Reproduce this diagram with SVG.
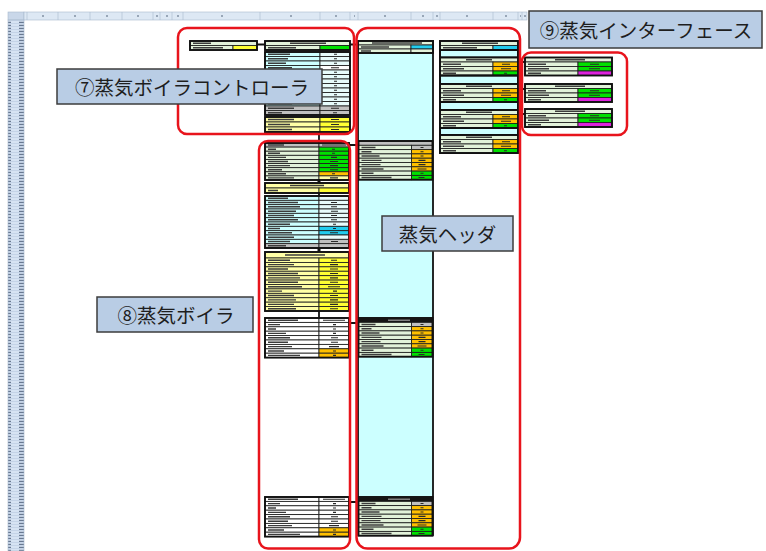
<svg xmlns="http://www.w3.org/2000/svg" width="766" height="551" viewBox="0 0 766 551">
<style>
.c{stroke:#1e1e1e;stroke-width:0.85}
.ol{fill:none;stroke:#111;stroke-width:1.9}
.g0{fill:#e2f2da}.cy{fill:#ccffff}.gy{fill:#c0c0c0}.gn{fill:#00e000}.or{fill:#ffc000}.ye{fill:#ffff33}.py{fill:#ffffa6}.wh{fill:#fff}.mg{fill:#dd22dd}.bc{fill:#22ccee}.pc{fill:#e8fcfc}
.mk{fill:none;stroke:#3c3c3c;stroke-width:1.4}
.vk{fill:none;stroke:#2a2a2a;stroke-width:1.1}
.rb{fill:none;stroke:#e8141c;stroke-width:2.5}
.lb{fill:#b9cde5;stroke:#3c3c3c;stroke-width:1.5}
.lt{font-family:"Noto Sans CJK JP","Noto Sans CJK SC",sans-serif;font-size:19.5px;fill:#1e1e1e;text-anchor:middle;dominant-baseline:central}
.cn{fill:none;stroke:#111;stroke-width:1.8}
.hd{fill:#dde8f4;stroke:#a9b9cd;stroke-width:0.6}
</style>
<defs>
<pattern id="rh" width="16" height="3" patternUnits="userSpaceOnUse">
<rect width="16" height="3" fill="#d6e3f3"/>
<rect x="0" y="2.6" width="16" height="0.4" fill="#a9bcd6"/>
<rect x="3" y="0.8" width="8" height="1.1" fill="#5d6d86"/>
</pattern>
<g id="br">
<rect class="c g0" x="0" y="0" width="78" height="4.5"/>
<rect class="c g0" x="0" y="4.5" width="53" height="4.5"/><rect class="c or" x="53" y="4.5" width="25" height="4.5"/>
<rect class="c g0" x="0" y="9" width="53" height="4.5"/><rect class="c or" x="53" y="9" width="25" height="4.5"/>
<rect class="c g0" x="0" y="13.5" width="53" height="4.5"/><rect class="c gn" x="53" y="13.5" width="25" height="4.5"/>
<path class="mk" d="M26 2.25h26M3 6.75h18M3 11.25h21M3 15.75h13"/>
<path class="vk" d="M62 6.75h8M61 11.25h10M64 15.75h3"/>
<rect class="ol" x="0" y="0" width="78" height="18"/>
</g>
<g id="if">
<rect class="c g0" x="0" y="0" width="87" height="4.5"/>
<rect class="c g0" x="0" y="4.5" width="53" height="4.5"/><rect class="c gn" x="53" y="4.5" width="34" height="4.5"/>
<rect class="c g0" x="0" y="9" width="53" height="4.5"/><rect class="c gn" x="53" y="9" width="34" height="4.5"/>
<rect class="c g0" x="0" y="13.5" width="53" height="4.5"/><rect class="c mg" x="53" y="13.5" width="34" height="4.5"/>
<path class="mk" d="M30 2.25h30M3 6.75h18M3 11.25h21M3 15.75h13"/>
<path class="vk" d="M65 6.75h9M64 11.25h11"/>
<rect class="ol" x="0" y="0" width="87" height="18"/>
</g>
<g id="ht">
<rect class="c gy" x="0" y="0" width="74" height="4.3"/>
<rect class="c g0" x="0" y="4.3" width="53" height="4.3"/><rect class="c gy" x="53" y="4.3" width="21" height="4.3"/>
<rect class="c g0" x="0" y="8.6" width="53" height="4.3"/><rect class="c or" x="53" y="8.6" width="21" height="4.3"/>
<rect class="c g0" x="0" y="12.9" width="53" height="4.3"/><rect class="c or" x="53" y="12.9" width="21" height="4.3"/>
<rect class="c g0" x="0" y="17.2" width="53" height="4.3"/><rect class="c or" x="53" y="17.2" width="21" height="4.3"/>
<rect class="c g0" x="0" y="21.5" width="53" height="4.3"/><rect class="c or" x="53" y="21.5" width="21" height="4.3"/>
<rect class="c g0" x="0" y="25.8" width="53" height="4.3"/><rect class="c or" x="53" y="25.8" width="21" height="4.3"/>
<rect class="c g0" x="0" y="30.1" width="53" height="4.3"/><rect class="c gn" x="53" y="30.1" width="21" height="4.3"/>
<rect class="c g0" x="0" y="34.4" width="53" height="4.3"/><rect class="c gn" x="53" y="34.4" width="21" height="4.3"/>
<path class="mk" d="M3 6.45h14M3 10.75h10M3 15.05h18M3 19.35h20M3 23.65h19M3 27.95h22M3 32.25h12M3 36.55h30"/>
<path class="vk" d="M62 6.45h3M62 10.75h3M62 15.05h3M60 19.35h7M60 23.65h7M59 27.95h9M62 32.25h3M60 36.55h6"/>
<rect class="ol" x="0" y="0" width="74" height="38.7"/>
</g>
<g id="wt">
<rect class="c wh" x="0" y="0" width="54" height="4.4"/><rect class="c wh" x="54" y="0" width="30" height="4.4"/>
<rect class="c wh" x="0" y="4.4" width="54" height="4.4"/><rect class="c wh" x="54" y="4.4" width="30" height="4.4"/>
<rect class="c wh" x="0" y="8.8" width="54" height="4.4"/><rect class="c wh" x="54" y="8.8" width="30" height="4.4"/>
<rect class="c wh" x="0" y="13.2" width="54" height="4.4"/><rect class="c wh" x="54" y="13.2" width="30" height="4.4"/>
<rect class="c wh" x="0" y="17.6" width="54" height="4.4"/><rect class="c wh" x="54" y="17.6" width="30" height="4.4"/>
<rect class="c wh" x="0" y="22" width="54" height="4.4"/><rect class="c wh" x="54" y="22" width="30" height="4.4"/>
<rect class="c wh" x="0" y="26.4" width="54" height="4.4"/><rect class="c wh" x="54" y="26.4" width="30" height="4.4"/>
<rect class="c wh" x="0" y="30.8" width="54" height="4.4"/><rect class="c or" x="54" y="30.8" width="30" height="4.4"/>
<rect class="c wh" x="0" y="35.2" width="54" height="4.4"/><rect class="c or" x="54" y="35.2" width="30" height="4.4"/>
<path class="mk" d="M3 2.2h30M3 6.6h12M3 11h8M3 15.4h18M3 19.8h22M3 24.2h20M3 28.6h24M3 33h16M3 37.4h32"/>
<path class="vk" d="M58 2.2h22M68 6.6h3M68 11h3M68 15.4h3M66 19.8h7M66 24.2h7M64 28.6h10M68 33h3M68 37.4h3"/>
<rect class="ol" x="0" y="0" width="84" height="39.6"/>
</g>
</defs>

<rect width="766" height="551" fill="#fff"/>

<g id="sheet-headers">
<rect x="8" y="12" width="16" height="8" fill="#c9d7e9" stroke="#a9b9cd" stroke-width="0.6"/>
<rect class="hd" x="24" y="12" width="503" height="8"/>
<path d="M27 12v8M58 12v8M90 12v8M122 12v8M153 12v8M160 12v8M172 12v8M183 12v8M260 12v8M320 12v8M350 12v8M358 12v8M411 12v8M433 12v8M440 12v8M493 12v8M518 12v8M522 12v8" stroke="#a9b9cd" stroke-width="0.6"/>
<path d="M42 16h2M74 16h2M106 16h2M137 16h2M156 16h2M166 16h2M177 16h2M221 16h2M290 16h2M335 16h2M354 16h1M384 16h2M422 16h2M436 16h2M466 16h2M505 16h2M520 16h1M524 16h2" stroke="#55657a" stroke-width="1.2"/>
<rect x="8" y="20" width="16" height="531" fill="url(#rh)" stroke="#a9b9cd" stroke-width="0.6"/>
</g>

<g id="connectors">
<path class="cn" d="M257 44.5H265M350 44.5H358M319 132V143M349 145H358M319 180V183M319 193V196M319 248V252M319 311V318M349 323H358M349 502H358M518 62H525M518 89H525M518 114H525"/>
<rect x="317.5" y="180.3" width="3" height="2.4" fill="#111"/>
<rect x="317.5" y="248.3" width="3" height="3" fill="#111"/>
</g>

<g id="controller-input">
<rect class="c g0" x="190" y="41" width="67" height="4.5"/>
<rect class="c g0" x="190" y="45.5" width="43" height="4.5"/><rect class="c ye" x="233" y="45.5" width="24" height="4.5"/>
<path class="mk" d="M193 43.2h18M193 47.7h30"/>
<rect class="ol" x="190" y="41" width="67" height="9"/>
</g>

<g id="controller">
<rect class="c g0" x="265" y="41" width="85" height="4.5"/>
<rect class="c g0" x="265" y="45.5" width="55" height="4.5"/><rect class="c gn" x="320" y="45.5" width="30" height="4.5"/>
<path class="mk" d="M290 43.2h36M268 47.7h28"/>
<rect class="ol" x="265" y="41" width="85" height="9"/>

<rect class="c cy" x="265" y="52" width="55" height="4.5"/><rect class="c pc" x="320" y="52" width="30" height="4.5"/>
<rect class="c cy" x="265" y="56.5" width="55" height="4.5"/><rect class="c pc" x="320" y="56.5" width="30" height="4.5"/>
<rect class="c cy" x="265" y="61" width="55" height="4.5"/><rect class="c pc" x="320" y="61" width="30" height="4.5"/>
<rect class="c cy" x="265" y="65.5" width="55" height="4.5"/><rect class="c wh" x="320" y="65.5" width="30" height="4.5"/>
<rect class="c cy" x="265" y="70" width="55" height="4.5"/><rect class="c pc" x="320" y="70" width="30" height="4.5"/>
<rect class="c cy" x="265" y="74.5" width="55" height="4.5"/><rect class="c pc" x="320" y="74.5" width="30" height="4.5"/>
<rect class="c cy" x="265" y="79" width="55" height="4.5"/><rect class="c pc" x="320" y="79" width="30" height="4.5"/>
<rect class="c cy" x="265" y="83.5" width="55" height="4.5"/><rect class="c pc" x="320" y="83.5" width="30" height="4.5"/>
<rect class="c cy" x="265" y="88" width="55" height="4.5"/><rect class="c pc" x="320" y="88" width="30" height="4.5"/>
<rect class="c cy" x="265" y="92.5" width="55" height="4.5"/><rect class="c pc" x="320" y="92.5" width="30" height="4.5"/>
<rect class="c cy" x="265" y="97" width="55" height="4.5"/><rect class="c pc" x="320" y="97" width="30" height="4.5"/>
<rect class="c cy" x="265" y="101.5" width="55" height="4.5"/><rect class="c pc" x="320" y="101.5" width="30" height="4.5"/>
<rect class="c gy" x="265" y="106" width="55" height="4.5"/><rect class="c gy" x="320" y="106" width="30" height="4.5"/>
<rect class="c gy" x="265" y="110.5" width="55" height="4.5"/><rect class="c gy" x="320" y="110.5" width="30" height="4.5"/>
<path class="mk" d="M268 54.25h22M268 58.75h20M268 63.25h18M268 67.75h24M268 72.25h20M268 76.75h22M268 81.25h16M268 85.75h20M268 90.25h18M268 94.75h22M268 99.25h20M268 103.75h24M268 108.25h26M268 112.75h14"/>
<path class="vk" d="M334 54.25h3M334 58.75h3M334 63.25h3M331 67.75h8M334 72.25h3M334 76.75h3M334 81.25h3M334 85.75h3M334 90.25h3M334 94.75h3M334 99.25h3M334 103.75h3M331 108.25h8M333 112.75h4"/>
<rect class="ol" x="265" y="52" width="85" height="63"/>

<rect class="c py" x="265" y="117" width="55" height="5"/><rect class="c ye" x="320" y="117" width="30" height="5"/>
<rect class="c py" x="265" y="122" width="55" height="5"/><rect class="c ye" x="320" y="122" width="30" height="5"/>
<rect class="c py" x="265" y="127" width="55" height="5"/><rect class="c ye" x="320" y="127" width="30" height="5"/>
<path class="mk" d="M268 119.5h26M268 124.5h22M268 129.5h24"/>
<path class="vk" d="M331 119.5h8M331 124.5h8M331 129.5h8"/>
<rect class="ol" x="265" y="117" width="85" height="15"/>
</g>

<g id="boiler">
<rect class="c gy" x="265" y="143" width="54" height="4.11"/><rect class="c gy" x="319" y="143" width="30" height="4.11"/>
<rect class="c g0" x="265" y="147.11" width="54" height="4.11"/><rect class="c gn" x="319" y="147.11" width="30" height="4.11"/>
<rect class="c g0" x="265" y="151.22" width="54" height="4.11"/><rect class="c gn" x="319" y="151.22" width="30" height="4.11"/>
<rect class="c g0" x="265" y="155.33" width="54" height="4.11"/><rect class="c gn" x="319" y="155.33" width="30" height="4.11"/>
<rect class="c g0" x="265" y="159.44" width="54" height="4.11"/><rect class="c gn" x="319" y="159.44" width="30" height="4.11"/>
<rect class="c g0" x="265" y="163.56" width="54" height="4.11"/><rect class="c gn" x="319" y="163.56" width="30" height="4.11"/>
<rect class="c g0" x="265" y="167.67" width="54" height="4.11"/><rect class="c gn" x="319" y="167.67" width="30" height="4.11"/>
<rect class="c g0" x="265" y="171.78" width="54" height="4.11"/><rect class="c or" x="319" y="171.78" width="30" height="4.11"/>
<rect class="c g0" x="265" y="175.89" width="54" height="4.11"/><rect class="c py" x="319" y="175.89" width="30" height="4.11"/>
<path class="mk" d="M268 145h16M268 149.2h8M268 153.3h12M268 157.4h18M268 161.5h20M268 165.6h22M268 169.7h14M268 173.8h18M268 177.9h26"/>
<path class="vk" d="M322 145h24M332 149.2h3M332 153.3h3M331 157.4h6M330 161.5h8M330 165.6h8M330 169.7h8M332 173.8h3M330 177.9h8"/>
<rect class="ol" x="265" y="143" width="84" height="37"/>

<rect class="c py" x="265" y="183" width="84" height="5"/>
<rect class="c py" x="265" y="188" width="54" height="5"/><rect class="c ye" x="319" y="188" width="30" height="5"/>
<path class="mk" d="M290 185.5h34M268 190.5h10"/>
<rect class="ol" x="265" y="183" width="84" height="10"/>

<rect class="c cy" x="265" y="196" width="54" height="4.33"/><rect class="c pc" x="319" y="196" width="30" height="4.33"/>
<rect class="c cy" x="265" y="200.33" width="54" height="4.33"/><rect class="c pc" x="319" y="200.33" width="30" height="4.33"/>
<rect class="c cy" x="265" y="204.67" width="54" height="4.33"/><rect class="c pc" x="319" y="204.67" width="30" height="4.33"/>
<rect class="c cy" x="265" y="209" width="54" height="4.33"/><rect class="c pc" x="319" y="209" width="30" height="4.33"/>
<rect class="c cy" x="265" y="213.33" width="54" height="4.33"/><rect class="c pc" x="319" y="213.33" width="30" height="4.33"/>
<rect class="c cy" x="265" y="217.67" width="54" height="4.33"/><rect class="c pc" x="319" y="217.67" width="30" height="4.33"/>
<rect class="c cy" x="265" y="222" width="54" height="4.33"/><rect class="c pc" x="319" y="222" width="30" height="4.33"/>
<rect class="c cy" x="265" y="226.33" width="54" height="4.33"/><rect class="c bc" x="319" y="226.33" width="30" height="4.33"/>
<rect class="c cy" x="265" y="230.67" width="54" height="4.33"/><rect class="c bc" x="319" y="230.67" width="30" height="4.33"/>
<rect class="c cy" x="265" y="235" width="54" height="4.33"/><rect class="c pc" x="319" y="235" width="30" height="4.33"/>
<rect class="c cy" x="265" y="239.33" width="54" height="4.33"/><rect class="c gy" x="319" y="239.33" width="30" height="4.33"/>
<rect class="c gy" x="265" y="243.67" width="54" height="4.33"/><rect class="c gy" x="319" y="243.67" width="30" height="4.33"/>
<path class="mk" d="M268 198.2h20M268 202.5h30M268 206.8h32M268 211.2h28M268 215.5h26M268 219.8h30M268 224.2h22M268 228.5h12M268 232.8h24M268 237.2h26M268 241.5h22M268 245.8h18"/>
<path class="vk" d="M331 202.5h6M331 206.8h6M331 211.2h7M331 215.5h6M331 219.8h6M333 224.2h3M333 228.5h3M330 232.8h8M331 241.5h7"/>
<rect class="ol" x="265" y="196" width="84" height="52"/>

<rect class="c py" x="265" y="252" width="84" height="6"/>
<rect class="c py" x="265" y="258" width="54" height="4.42"/><rect class="c ye" x="319" y="258" width="30" height="4.42"/>
<rect class="c py" x="265" y="262.42" width="54" height="4.42"/><rect class="c ye" x="319" y="262.42" width="30" height="4.42"/>
<rect class="c py" x="265" y="266.83" width="54" height="4.42"/><rect class="c ye" x="319" y="266.83" width="30" height="4.42"/>
<rect class="c py" x="265" y="271.25" width="54" height="4.42"/><rect class="c ye" x="319" y="271.25" width="30" height="4.42"/>
<rect class="c py" x="265" y="275.67" width="54" height="4.42"/><rect class="c ye" x="319" y="275.67" width="30" height="4.42"/>
<rect class="c py" x="265" y="280.08" width="54" height="4.42"/><rect class="c ye" x="319" y="280.08" width="30" height="4.42"/>
<rect class="c py" x="265" y="284.5" width="54" height="4.42"/><rect class="c ye" x="319" y="284.5" width="30" height="4.42"/>
<rect class="c py" x="265" y="288.92" width="54" height="4.42"/><rect class="c ye" x="319" y="288.92" width="30" height="4.42"/>
<rect class="c py" x="265" y="293.33" width="54" height="4.42"/><rect class="c ye" x="319" y="293.33" width="30" height="4.42"/>
<rect class="c py" x="265" y="297.75" width="54" height="4.42"/><rect class="c ye" x="319" y="297.75" width="30" height="4.42"/>
<rect class="c py" x="265" y="302.17" width="54" height="4.42"/><rect class="c ye" x="319" y="302.17" width="30" height="4.42"/>
<rect class="c py" x="265" y="306.58" width="54" height="4.42"/><rect class="c ye" x="319" y="306.58" width="30" height="4.42"/>
<path class="mk" d="M285 255h40M268 260.2h22M268 264.6h26M268 269h20M268 273.5h30M268 277.9h32M268 282.3h30M268 286.7h34M268 291.1h14M268 295.5h26M268 299.9h28M268 304.4h26M268 308.8h28"/>
<path class="vk" d="M331 260.2h6M330 264.6h8M330 269h8M330 273.5h8M330 277.9h8M330 282.3h8M328 286.7h12M333 291.1h4M330 295.5h8M330 299.9h8M330 304.4h8M330 308.8h8"/>
<rect class="ol" x="265" y="252" width="84" height="59"/>

<use href="#wt" x="265" y="318"/>
<use href="#wt" x="265" y="497"/>
</g>

<g id="steam-header">
<rect x="358" y="41" width="75" height="494" fill="#ccffff" stroke="#111" stroke-width="1.8"/>
<rect class="c g0" x="358" y="41" width="75" height="4"/>
<rect class="c g0" x="358" y="45" width="53" height="4"/><rect class="c bc" x="411" y="45" width="22" height="4"/>
<rect class="c g0" x="358" y="49" width="53" height="4"/><rect class="c g0" x="411" y="49" width="22" height="4"/>
<path class="mk" d="M372 43h50M361 47h28M361 51h10"/>
<rect class="ol" x="358" y="41" width="75" height="12"/>
<use href="#ht" x="358.5" y="141"/>
<use href="#ht" x="358.5" y="318"/>
<rect x="358.5" y="318" width="74" height="4.3" fill="#151515"/>
<path d="M388 320.2h22" stroke="#9a9a9a" stroke-width="1.2"/>
<use href="#ht" x="358.5" y="497"/>
<rect x="358.5" y="497" width="74" height="4.3" fill="#151515"/>
<path d="M388 499.2h22" stroke="#9a9a9a" stroke-width="1.2"/>
</g>

<g id="header-branches">
<rect x="440" y="41" width="78" height="112" fill="#ccffff" stroke="#111" stroke-width="1.8"/>
<rect class="c g0" x="440" y="41" width="78" height="4.5"/>
<rect class="c g0" x="440" y="45.5" width="53" height="4.5"/><rect class="c bc" x="493" y="45.5" width="25" height="4.5"/>
<path class="mk" d="M462 43.2h36M443 47.7h34"/>
<rect class="ol" x="440" y="41" width="78" height="9"/>
<rect class="ol" x="440" y="50" width="78" height="7.5"/>
<use href="#br" x="440" y="57.5"/>
<rect class="ol" x="440" y="75.5" width="78" height="8.5"/>
<use href="#br" x="440" y="84"/>
<rect class="ol" x="440" y="102" width="78" height="8"/>
<use href="#br" x="440" y="110"/>
<rect class="ol" x="440" y="128" width="78" height="7"/>
<use href="#br" x="440" y="135"/>
</g>

<g id="interface">
<use href="#if" x="525" y="57.5"/>
<use href="#if" x="525" y="84"/>
<use href="#if" x="525" y="109"/>
</g>

<g id="regions">
<rect class="rb" x="178" y="28" width="176" height="106" rx="9"/>
<rect class="rb" x="356.5" y="28" width="163.5" height="520.5" rx="11"/>
<rect class="rb" x="259" y="141" width="91" height="407.5" rx="9"/>
<rect class="rb" x="522" y="52.5" width="105" height="82.5" rx="9"/>
</g>

<g id="label-controller">
<rect class="lb" x="57" y="69" width="265" height="35"/>
<text class="lt" x="192" y="86.5">⑦蒸気ボイラコントローラ</text>
</g>
<g id="label-boiler">
<rect class="lb" x="97" y="297" width="156" height="35"/>
<text class="lt" x="176" y="314.5">⑧蒸気ボイラ</text>
</g>
<g id="label-header">
<rect class="lb" x="382" y="216" width="131" height="35"/>
<text class="lt" x="447.5" y="233.5">蒸気ヘッダ</text>
</g>
<g id="label-interface">
<rect class="lb" x="529" y="11" width="233" height="37"/>
<text class="lt" x="646" y="29.5">⑨蒸気インターフェース</text>
</g>
</svg>
